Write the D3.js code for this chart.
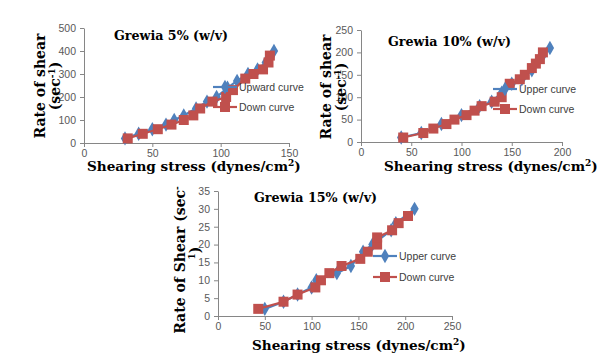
<!DOCTYPE html>
<html>
<head>
<meta charset="utf-8">
<title>Grewia rheograms</title>
<script src="https://d3js.org/d3.v7.min.js"></script>
<style>
  body { margin: 0; background: #fff; }
  .tick text { font-family: "Liberation Sans", Arial, sans-serif; font-size: 10.5px; fill: #595959; }
  .tick line, .domain { stroke: #868686; }
  .ttl { font-family: "DejaVu Serif", serif; font-weight: bold; fill: #000; }
  .leg { font-family: "Liberation Sans", Arial, sans-serif; font-size: 10.5px; fill: #404040; }
</style>
</head>
<body>
<svg width="602" height="356"></svg>
<script>
// Grewia 5%
var g5UpX = [30, 40, 50, 60, 66, 73, 82, 90, 97, 105, 112, 120, 127, 133, 139];
var g5UpY = [20, 40, 60, 80, 100, 120, 150, 180, 200, 240, 270, 300, 320, 350, 400];
var g5DownX = [32, 43, 54, 64, 73, 80, 85, 94, 104, 109, 118, 124, 131, 135, 136];
var g5DownY = [20, 40, 60, 80, 100, 120, 150, 180, 200, 230, 280, 300, 320, 350, 380];
// Grewia 10%
var g10UpX = [40, 60, 80, 100, 118, 130, 140, 150, 160, 170, 180, 188];
var g10UpY = [10, 20, 40, 60, 80, 90, 110, 130, 140, 160, 190, 210];
var g10DownX = [42, 62, 72, 85, 93, 105, 113, 120, 133, 140, 148, 158, 163, 170, 174, 178, 181];
var g10DownY = [10, 20, 30, 40, 50, 60, 70, 80, 90, 100, 130, 140, 150, 165, 175, 185, 200];
// Grewia 15%
var g15UpX = [50, 70, 85, 100, 105, 127, 142, 155, 165, 185, 190, 210];
var g15UpY = [2, 4, 6, 8, 10, 12, 14, 18, 20, 24, 26, 30];
var g15DownX = [43, 70, 85, 104, 110, 119, 132, 152, 160, 170, 170, 186, 193, 203];
var g15DownY = [2, 4, 6, 8, 10, 12, 14, 16, 18, 20, 22, 24, 26, 28];

var blue = "#4F81BD", red = "#C0504D";
var svg = d3.select("svg");

function zip(xs, ys) { return xs.map(function (x, i) { return [x, ys[i]]; }); }

function drawChart(c) {
  var x = d3.scaleLinear().domain([0, c.xMax]).range([c.left, c.right]);
  var y = d3.scaleLinear().domain([0, c.yMax]).range([c.bottom, c.top]);
  var g = svg.append("g");

  g.append("g").attr("transform", "translate(0," + c.bottom + ")")
    .call(d3.axisBottom(x).tickValues(d3.range(0, c.xMax + 1, c.xStep)).tickSize(4).tickSizeOuter(0).tickPadding(3));
  g.append("g").attr("transform", "translate(" + c.left + ",0)")
    .call(d3.axisLeft(y).tickValues(d3.range(0, c.yMax + 1, c.yStep)).tickSize(4).tickSizeOuter(0).tickPadding(4));

  var line = d3.line().x(function (d) { return x(d[0]); }).y(function (d) { return y(d[1]); });
  var up = zip(c.upX, c.upY), down = zip(c.downX, c.downY);

  g.append("path").datum(up).attr("d", line).attr("fill", "none").attr("stroke", blue).attr("stroke-width", 2.2);
  g.selectAll(".dia").data(up).enter().append("path")
    .attr("d", d3.symbol().type(d3.symbolDiamond).size(60))
    .attr("transform", function (d) { return "translate(" + x(d[0]) + "," + y(d[1]) + ")"; })
    .attr("fill", blue);
  g.append("path").datum(down).attr("d", line).attr("fill", "none").attr("stroke", red).attr("stroke-width", 2.2);
  g.selectAll(".sq").data(down).enter().append("rect")
    .attr("x", function (d) { return x(d[0]) - 5; }).attr("y", function (d) { return y(d[1]) - 5; })
    .attr("width", 10).attr("height", 10).attr("fill", red);

  // title
  g.append("text").attr("class", "ttl").attr("x", c.titleX).attr("y", c.titleY)
    .attr("font-size", 12.5).attr("textLength", c.titleW).attr("lengthAdjust", "spacingAndGlyphs").text(c.title);

  // x axis title
  var xt = g.append("text").attr("class", "ttl").attr("x", c.xtX).attr("y", c.xtY).attr("font-size", 13.6);
  xt.append("tspan").text("Shearing stress (dynes/cm");
  xt.append("tspan").attr("font-size", 9).attr("baseline-shift", "super").text("2");
  xt.append("tspan").text(")");

  // y axis title lines
  c.yLines.forEach(function (l) {
    var t = g.append("text").attr("class", "ttl").attr("font-size", 14).attr("text-anchor", "middle")
      .attr("transform", "translate(" + l.x + "," + l.y + ") rotate(-90)");
    l.parts.forEach(function (p) {
      var s = t.append("tspan").text(p.t);
      if (p.sup) s.attr("font-size", 9).attr("baseline-shift", "super");
    });
  });

  // legend
  var lg = g.append("g");
  lg.append("line").attr("x1", c.legX).attr("x2", c.legX + 24).attr("y1", c.legY).attr("y2", c.legY)
    .attr("stroke", blue).attr("stroke-width", 2.2);
  lg.append("path").attr("d", d3.symbol().type(d3.symbolDiamond).size(60))
    .attr("transform", "translate(" + (c.legX + 12) + "," + c.legY + ")").attr("fill", blue);
  lg.append("text").attr("class", "leg").attr("x", c.legX + 26).attr("y", c.legY + 4).text(c.upName);
  var y2 = c.legY + c.legGap;
  lg.append("line").attr("x1", c.legX).attr("x2", c.legX + 24).attr("y1", y2).attr("y2", y2)
    .attr("stroke", red).attr("stroke-width", 2.2);
  lg.append("rect").attr("x", c.legX + 7).attr("y", y2 - 5).attr("width", 10).attr("height", 10).attr("fill", red);
  lg.append("text").attr("class", "leg").attr("x", c.legX + 26).attr("y", y2 + 4).text("Down curve");
}

drawChart({
  xMax: 150, xStep: 50, yMax: 500, yStep: 100,
  left: 84, right: 289, top: 28, bottom: 143,
  upX: g5UpX, upY: g5UpY, downX: g5DownX, downY: g5DownY,
  title: "Grewia 5% (w/v)", titleX: 114, titleY: 40, titleW: 114,
  xtX: 87, xtY: 171,
  yLines: [
    { x: 45, y: 86, parts: [{ t: "Rate of shear" }] },
    { x: 60, y: 86, parts: [{ t: "(sec" }, { t: "-1", sup: true }, { t: ")" }] }
  ],
  legX: 213, legY: 87, legGap: 20, upName: "Upward curve"
});

drawChart({
  xMax: 200, xStep: 50, yMax: 250, yStep: 50,
  left: 361, right: 562, top: 30, bottom: 142,
  upX: g10UpX, upY: g10UpY, downX: g10DownX, downY: g10DownY,
  title: "Grewia 10% (w/v)", titleX: 388, titleY: 46, titleW: 123,
  xtX: 384, xtY: 171,
  yLines: [
    { x: 331, y: 87, parts: [{ t: "Rate of shear" }] },
    { x: 346, y: 87, parts: [{ t: "(sec" }, { t: "-1", sup: true }, { t: ")" }] }
  ],
  legX: 493, legY: 89, legGap: 20, upName: "Upper curve"
});

drawChart({
  xMax: 250, xStep: 50, yMax: 35, yStep: 5,
  left: 218, right: 452, top: 191, bottom: 316,
  upX: g15UpX, upY: g15UpY, downX: g15DownX, downY: g15DownY,
  title: "Grewia 15% (w/v)", titleX: 254, titleY: 202, titleW: 123,
  xtX: 252, xtY: 350,
  yLines: [
    { x: 185, y: 260, parts: [{ t: "Rate of Shear (sec" }, { t: "-", sup: true }] },
    { x: 200, y: 253, parts: [{ t: "1", sup: true }, { t: ")" }] }
  ],
  legX: 373, legY: 256, legGap: 21, upName: "Upper curve"
});
</script>
</body>
</html>
